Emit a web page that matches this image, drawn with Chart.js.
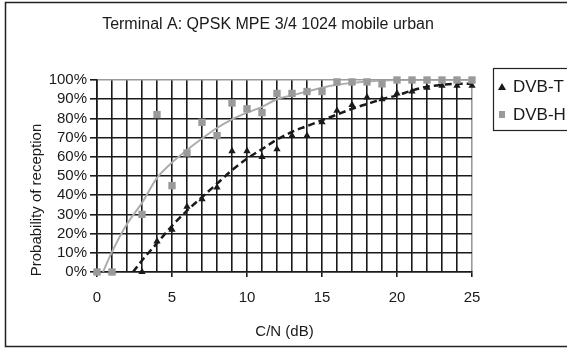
<!DOCTYPE html>
<html>
<head>
<meta charset="utf-8">
<script src="https://cdn.jsdelivr.net/npm/chart.js@4/dist/chart.umd.min.js"></script>
<style>
  html, body { margin: 0; padding: 0; background: #fff; }
  #wrap { width: 567px; height: 349px; position: relative; }
</style>
</head>
<body>
<div id="wrap"><canvas id="c" width="567" height="349"></canvas></div>
<script>
// ---- data ----
const chartTitle = 'Terminal A: QPSK MPE 3/4 1024 mobile urban';
const xAxisTitle = 'C/N (dB)';
const yAxisTitle = 'Probability of reception';
const seriesNames = ['DVB-T', 'DVB-H'];

const cnDvbT = [0, 1, 3, 4, 5, 6, 7, 8, 9, 10, 11, 12, 13, 14, 15, 16, 17, 18, 19, 20, 21, 22, 23, 24, 25];
const dvbT   = [0, 0, 0, 16, 22, 34, 38, 44, 63, 63, 60, 64, 71, 71, 78, 84, 87, 91, 90, 93, 94, 96, 97, 97, 97];

const cnDvbH = [0, 1, 3, 4, 5, 6, 7, 8, 9, 10, 11, 12, 13, 14, 15, 16, 17, 18, 19, 20, 21, 22, 23, 24, 25];
const dvbH   = [0, 0, 30, 82, 45, 62, 78, 71, 88, 85, 83, 93, 93, 94, 94, 99, 99, 99, 98, 100, 100, 100, 100, 100, 100];

// trend lines
const trendTx = [2.4, 3, 4, 5, 6, 7, 8, 9, 10, 11, 12, 13, 14, 15, 16, 17, 18, 19, 20, 21, 22, 23, 24, 25];
const trendTy = [0, 6, 15, 24, 32, 39, 46, 53, 59, 64, 69, 73, 76, 79, 82, 85, 87.5, 90, 92, 94.5, 96.5, 97.5, 98, 98];
const trendHx = [0.4, 1, 2, 3, 4, 5, 6, 7, 8, 9, 10, 11, 12, 13, 14, 15, 16, 17, 18, 19, 20, 21, 22, 23, 24, 25];
const trendHy = [0, 10.5, 25, 36, 49, 57, 63.5, 69.5, 75, 79.5, 83, 86, 90, 92, 94, 96, 97.5, 98.5, 99.2, 99.7, 100, 100, 100, 100, 100, 100];

const xTickLabels = [0, 5, 10, 15, 20, 25];

// ---- build ----
const toPts = (xs, ys) => xs.map((x, i) => ({ x: x, y: ys[i] }));
const FONT = '"Liberation Sans", Arial, sans-serif';
const DARK = '#1a1a1a';
const GREY = '#9a9a9a';

const decor = {
  id: 'decor',
  afterDraw(chart) {
    const ctx = chart.ctx;
    ctx.save();
    // outer frame
    ctx.strokeStyle = '#222';
    ctx.lineWidth = 1.5;
    ctx.strokeRect(5.5, 2.5, 575, 344);
    // title
    ctx.fillStyle = DARK;
    ctx.font = '16px ' + FONT;
    ctx.textAlign = 'center';
    ctx.textBaseline = 'middle';
    ctx.fillText(chartTitle, 268, 25);
    // y axis title
    ctx.save();
    ctx.translate(37, 200);
    ctx.rotate(-Math.PI / 2);
    ctx.font = '15px ' + FONT;
    ctx.fillText(yAxisTitle, 0, 0);
    ctx.restore();
    // legend box
    ctx.lineWidth = 1.2;
    ctx.strokeStyle = '#222';
    ctx.strokeRect(493.5, 68.5, 80, 62);
    // legend markers
    ctx.fillStyle = DARK;
    ctx.beginPath();
    ctx.moveTo(502, 83); ctx.lineTo(506, 90); ctx.lineTo(498, 90); ctx.closePath();
    ctx.fill();
    ctx.fillStyle = GREY;
    ctx.fillRect(499, 111, 6, 7);
    ctx.fillStyle = DARK;
    ctx.font = '17px ' + FONT;
    ctx.textAlign = 'left';
    ctx.fillText(seriesNames[0], 513, 87);
    ctx.fillText(seriesNames[1], 513, 115);
    ctx.restore();
  }
};

new Chart(document.getElementById('c'), {
  type: 'scatter',
  data: {
    datasets: [
      {
        label: seriesNames[0] + ' trend',
        data: toPts(trendTx, trendTy),
        showLine: true,
        borderColor: DARK,
        borderWidth: 2.5,
        borderDash: [7, 4],
        pointRadius: 0,
        cubicInterpolationMode: 'monotone',
        order: 4
      },
      {
        label: seriesNames[1] + ' trend',
        data: toPts(trendHx, trendHy),
        showLine: true,
        borderColor: '#acacac',
        borderWidth: 2,
        pointRadius: 0,
        cubicInterpolationMode: 'monotone',
        order: 3
      },
      {
        label: seriesNames[0],
        data: toPts(cnDvbT, dvbT),
        showLine: false,
        pointStyle: 'triangle',
        pointRadius: 4.2,
        backgroundColor: DARK,
        borderColor: DARK,
        borderWidth: 0,
        clip: false,
        order: 2
      },
      {
        label: seriesNames[1],
        data: toPts(cnDvbH, dvbH),
        showLine: false,
        pointStyle: 'rect',
        pointRadius: 5.2,
        backgroundColor: GREY,
        borderColor: GREY,
        borderWidth: 0,
        clip: false,
        order: 1
      }
    ]
  },
  options: {
    responsive: false,
    animation: false,
    layout: { padding: { left: 0, top: 80, right: 95, bottom: 8 } },
    plugins: {
      legend: { display: false },
      title: { display: false },
      tooltip: { enabled: false }
    },
    scales: {
      x: {
        type: 'linear',
        min: 0, max: 25,
        afterFit(s) { s.height = 69; },
        ticks: {
          stepSize: 1,
          autoSkip: false,
          maxRotation: 0,
          padding: 12,
          color: DARK,
          font: { size: 15, family: FONT },
          callback: v => xTickLabels.includes(v) ? String(v) : ''
        },
        grid: {
          color: c => (c.tick && c.tick.value === 25) ? GREY : DARK,
          lineWidth: 1.6,
          drawTicks: true,
          tickLength: 5,
          tickColor: c => (c.tick && c.tick.value % 5 === 0) ? DARK : 'rgba(0,0,0,0)'
        },
        border: { color: DARK, width: 1.6 },
        title: {
          display: true,
          text: xAxisTitle,
          color: DARK,
          font: { size: 15, family: FONT },
          padding: { top: 0, bottom: 0 }
        }
      },
      y: {
        type: 'linear',
        min: 0, max: 100,
        afterFit(s) { s.width = 97; },
        ticks: {
          stepSize: 10,
          autoSkip: false,
          padding: 3,
          color: DARK,
          font: { size: 15, family: FONT },
          callback: v => v + '%'
        },
        grid: {
          color: c => (c.tick && c.tick.value === 100) ? GREY : DARK,
          lineWidth: 1.6,
          tickLength: 7,
          tickColor: DARK
        },
        border: { color: DARK, width: 1.6 }
      }
    }
  },
  plugins: [decor]
});
</script>
</body>
</html>
